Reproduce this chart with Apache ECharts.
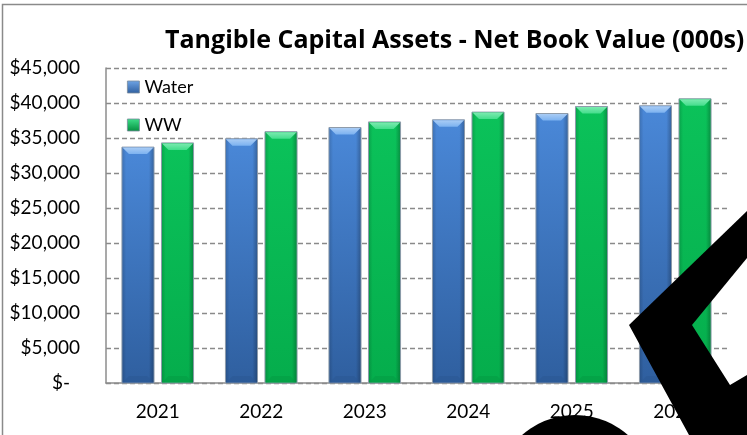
<!DOCTYPE html>
<html>
<head>
<meta charset="utf-8">
<script src="https://cdn.jsdelivr.net/npm/echarts@6/dist/echarts.min.js"></script>
<style>
  html, body { margin: 0; padding: 0; background: #fff; }
  #chart { width: 747px; height: 435px; }
</style>
</head>
<body>
<div id="chart"></div>
<script>
// Net book value of tangible capital assets, thousands of dollars
const years = ['2021', '2022', '2023', '2024', '2025', '2026'];
const waterValues = [33700, 34900, 36500, 37600, 38500, 39600];
const wwValues = [34300, 35900, 37300, 38700, 39500, 40600];
const yTickValues = [0, 5000, 10000, 15000, 20000, 25000, 30000, 35000, 40000, 45000];
const yTickLabels = ['$-', '$5,000', '$10,000', '$15,000', '$20,000', '$25,000', '$30,000', '$35,000', '$40,000', '$45,000'];

const FONT = 'Lato, "Open Sans", sans-serif';
const TITLE_FONT = '"Open Sans", Lato, sans-serif';

const palette = {
  Water: { top: '#4A88D8', bottom: '#2F5F9F', bevel: '#7CB2F0', bevelEdge: '#A9CCF5', base: '#2B5894', icon: '#3E78C4' },
  WW:    { top: '#0BC25A', bottom: '#05AD4C', bevel: '#44DD8C', bevelEdge: '#7BEBB0', base: '#049C44', icon: '#08B552' }
};

function vGrad(a, b) {
  return new echarts.graphic.LinearGradient(0, 0, 0, 1, [
    { offset: 0, color: a }, { offset: 1, color: b }
  ]);
}

// Bevelled column drawn from the category/value scales
function makeRender(name, side) {
  const c = palette[name];
  return function (params, api) {
    const cat = api.value(0);
    const val = api.value(1);
    const topPt = api.coord([cat, val]);
    const basePt = api.coord([cat, 0]);
    const band = api.size([1, 0])[0];
    const bw = band * 0.31;
    const gap = band * 0.072;
    const cx = topPt[0] + side * (bw + gap) / 2;
    const left = cx - bw / 2;
    const top = topPt[1];
    const bottom = basePt[1];
    const h = bottom - top;
    const b = Math.min(7, h / 4);
    return {
      type: 'group',
      children: [
        {
          type: 'rect',
          shape: { x: left, y: top, width: bw, height: h },
          style: { fill: vGrad(c.top, c.bottom), stroke: '#8E9BAA', lineWidth: 1 }
        },
        {
          type: 'rect',
          shape: { x: left + 0.5, y: top + 0.5, width: bw - 1, height: h - 1 },
          style: {
            fill: new echarts.graphic.LinearGradient(0, 0, 1, 0, [
              { offset: 0, color: 'rgba(0,0,0,0.14)' },
              { offset: 0.12, color: 'rgba(0,0,0,0)' },
              { offset: 0.85, color: 'rgba(0,0,0,0)' },
              { offset: 1, color: 'rgba(0,0,0,0.24)' }
            ])
          }
        },
        {
          type: 'polygon',
          shape: { points: [[left + 0.5, top + 0.5], [left + bw - 0.5, top + 0.5], [left + bw - b, top + b], [left + b, top + b]] },
          style: { fill: vGrad(c.bevelEdge, c.bevel) }
        },
        {
          type: 'polygon',
          shape: { points: [[left + 0.5, bottom - 0.5], [left + bw - 0.5, bottom - 0.5], [left + bw - b, bottom - b], [left + b, bottom - b]] },
          style: { fill: c.base, opacity: 0.6 }
        }
      ]
    };
  };
}

function seriesData(values) {
  return values.map((v, i) => [i, v]);
}

const chart = echarts.init(document.getElementById('chart'), null, { renderer: 'canvas' });

chart.setOption({
  animation: false,
  backgroundColor: '#fff',
  title: {
    text: 'Tangible Capital Assets - Net Book Value (000s)',
    left: 165,
    top: 28,
    padding: 0,
    textStyle: { fontFamily: TITLE_FONT, fontWeight: 'bold', fontSize: 25, color: '#000' }
  },
  legend: {
    orient: 'vertical',
    left: 127,
    top: 78,
    padding: 0,
    itemWidth: 12,
    itemHeight: 12,
    itemGap: 20,
    icon: 'rect',
    textStyle: { fontFamily: FONT, fontSize: 18, color: '#000' },
    data: [
      { name: 'Water', itemStyle: { color: vGrad('#6FA5E6', '#2F5F9F'), borderColor: '#7A8A9C', borderWidth: 0.8 } },
      { name: 'WW', itemStyle: { color: vGrad('#3FE08A', '#048E3E'), borderColor: '#7A8A9C', borderWidth: 0.8 } }
    ]
  },
  grid: { left: 106, right: 20, top: 68, bottom: 52, containLabel: false },
  xAxis: {
    type: 'category',
    data: years,
    axisLine: { lineStyle: { color: '#8C8C8C', width: 1.5 } },
    axisTick: { show: false },
    axisLabel: { fontFamily: FONT, fontSize: 19, color: '#000', margin: 19 }
  },
  yAxis: {
    type: 'value',
    min: 0,
    max: 45000,
    interval: 5000,
    axisLine: { show: true, lineStyle: { color: '#8C8C8C', width: 1.5 } },
    axisTick: { show: false },
    splitLine: { lineStyle: { color: '#8A8A8A', type: [5, 3], width: 1.3 } },
    axisLabel: {
      fontFamily: FONT,
      fontSize: 19,
      color: '#000',
      margin: 26,
      formatter: function (v) {
        const i = yTickValues.indexOf(v);
        const lbl = i >= 0 ? yTickLabels[i] : '';
        return v === 0 ? '{z|' + lbl + '}' : lbl;
      },
      rich: { z: { fontFamily: FONT, fontSize: 19, color: '#000', padding: [0, 10, 0, 0] } }
    }
  },
  series: [
    {
      name: 'Water',
      type: 'custom',
      renderItem: makeRender('Water', -1),
      itemStyle: { color: palette.Water.icon },
      encode: { x: 0, y: 1 },
      data: seriesData(waterValues),
      z: 2
    },
    {
      name: 'WW',
      type: 'custom',
      renderItem: makeRender('WW', 1),
      itemStyle: { color: palette.WW.icon },
      encode: { x: 0, y: 1 },
      data: seriesData(wwValues),
      z: 2
    }
  ],
  graphic: [
    {
      type: 'rect',
      z: -1,
      silent: true,
      shape: { x: 2.5, y: 4.5, width: 900, height: 600 },
      style: { fill: 'none', stroke: '#8A8A8A', lineWidth: 1.5 }
    },
    {
      type: 'polygon',
      z: 100,
      silent: true,
      shape: { points: [[629, 325], [747, 211], [747, 258], [692, 325]] },
      style: { fill: '#000' }
    },
    {
      type: 'polygon',
      z: 100,
      silent: true,
      shape: { points: [[629, 325], [692, 325], [730, 385], [747, 375], [747, 435], [689, 435]] },
      style: { fill: '#000' }
    },
    {
      type: 'circle',
      z: 100,
      silent: true,
      shape: { cx: 575, cy: 495, r: 80 },
      style: { fill: '#000' }
    }
  ]
});
</script>
</body>
</html>
